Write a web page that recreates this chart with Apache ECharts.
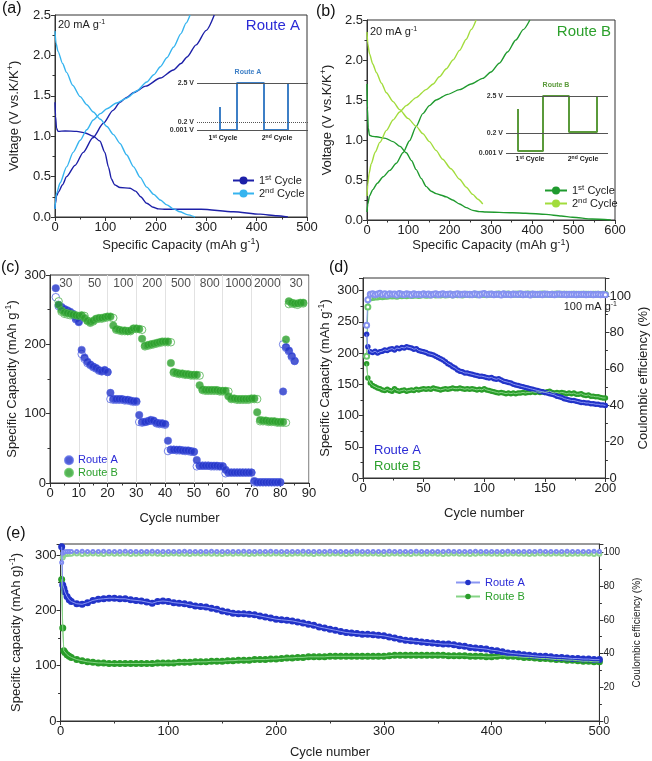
<!DOCTYPE html>
<html><head><meta charset="utf-8">
<script src="https://cdn.jsdelivr.net/npm/echarts@6/dist/echarts.min.js"></script>
<style>html,body{margin:0;padding:0;background:#fff}#c{width:652px;height:761px}</style>
</head><body><div id="c"></div>
<script>
// ---------- Panel (a): Route A voltage profiles [capacity, voltage] ----------
const aCycle1Discharge = [[0,1.42],[1,1.25],[3,1.1],[6,1.06],[20,1.065],[43,1.06],[60,1.04],[76,1.0],[89,0.94],[99,0.8],[106,0.62],[112,0.47],[118,0.4],[129,0.365],[149,0.355],[160,0.32],[170,0.25],[182,0.17],[195,0.12],[205,0.1],[220,0.095],[290,0.095],[354,0.065],[407,0.035],[440,0.015],[462,0]];
const aCycle1Charge = [[0,0.1],[1,0.17],[3,0.26],[7,0.31],[15,0.4],[23,0.5],[40,0.64],[56,0.8],[75,0.98],[96,1.16],[115,1.32],[129,1.42],[142,1.48],[156,1.54],[180,1.62],[209,1.72],[235,1.82],[250,1.9],[262,1.98],[280,2.13],[300,2.31],[316,2.5]];
const aCycle2Discharge = [[0,2.3],[2,2.15],[6,2.05],[15,1.9],[23,1.79],[35,1.63],[50,1.49],[63,1.39],[76,1.3],[90,1.21],[103,1.12],[116,1.02],[129,0.91],[142,0.77],[156,0.62],[169,0.49],[182,0.37],[196,0.28],[209,0.21],[222,0.15],[235,0.1],[248,0.065],[262,0.03],[278,0]];
const aCycle2Charge = [[0,0.1],[1,0.2],[3,0.29],[10,0.42],[23,0.62],[36,0.8],[50,0.95],[63,1.08],[76,1.2],[90,1.28],[103,1.34],[122,1.41],[142,1.47],[162,1.56],[182,1.67],[196,1.76],[209,1.86],[222,1.97],[235,2.1],[250,2.27],[260,2.4],[268,2.5]];
// ---------- Panel (b): Route B voltage profiles ----------
const bCycle1Discharge = [[0,1.7],[1,1.4],[3,1.15],[6,1.06],[14,1.045],[23,1.04],[45,1.02],[63,0.98],[80,0.92],[95,0.84],[108,0.74],[119,0.63],[131,0.52],[143,0.42],[155,0.36],[167,0.33],[180,0.31],[191,0.29],[207,0.25],[224,0.2],[240,0.155],[256,0.12],[272,0.105],[288,0.1],[352,0.09],[384,0.085],[433,0.07],[470,0.05],[497,0.035],[545,0.012],[590,0]];
const bCycle1Charge = [[0,0.1],[2,0.2],[6,0.3],[14,0.38],[25,0.46],[39,0.54],[55,0.62],[71,0.71],[87,0.84],[103,0.99],[119,1.17],[135,1.33],[151,1.43],[167,1.5],[195,1.57],[224,1.63],[252,1.7],[280,1.77],[300,1.85],[320,1.96],[340,2.1],[360,2.25],[378,2.38],[394,2.5]];
const bCycle2Discharge = [[0,2.35],[2,2.2],[6,2.08],[14,1.95],[23,1.84],[35,1.71],[47,1.59],[63,1.48],[79,1.38],[99,1.27],[119,1.17],[135,1.08],[151,0.98],[167,0.87],[183,0.76],[203,0.64],[224,0.51],[240,0.41],[256,0.32],[268,0.26],[280,0.2]];
const bCycle2Charge = [[0,0.3],[2,0.45],[5,0.58],[10,0.7],[20,0.85],[31,0.97],[47,1.12],[63,1.25],[79,1.35],[95,1.43],[119,1.53],[143,1.63],[160,1.7],[175,1.79],[192,1.89],[208,2.0],[224,2.12],[240,2.26],[252,2.38],[264,2.5]];
// ---------- Insets: schematic voltage protocol (schematic units) ----------
const insetAWave = [[23,23],[23,0],[40,0],[40,47],[67,47],[67,0],[91,0],[91,47]];
const insetALevels = [['2.5 V',47,'solid'],['0.2 V',8,'dotted'],['0.001 V',0,'solid']];
const insetBWave = [[12,44],[12,2],[37,2],[37,57],[63,57],[63,21],[91,21],[91,57]];
const insetBLevels = [['2.5 V',57,'solid'],['0.2 V',20,'solid'],['0.001 V',0,'solid']];
// ---------- Panel (c): rate capability ----------
const rateLabels = ['30','50','100','200','500','800','1000','2000','30'];
const rateAStart = 2;
const rateADischarge = [281, 257,254,251,249,247,244,237,232,
  192,181,175,171,168,166,163,161,163,160,
  130,121,121,121,121,120,120,119,118,118,
  98,88,88,89,91,90,87,86,86,85,
  61,48,48,48,48,47,47,47,46,45,
  33,25,25,25,25,25,25,25,24,24,
  19,15,15,15,15,15,15,15,15,15,
  3,1,1,1,1,1,1,1,1,1,
  132,196,191,183,176];
const rateACharge = [268, 255,252,250,248,245,242,236,234,
  186,179,173,170,167,165,162,161,162,160,
  121,120,120,120,120,119,119,118,117,117,
  88,87,88,89,90,89,86,85,85,84,
  46,48,48,47,47,47,46,46,45,45,
  24,25,25,25,25,24,24,24,24,24,
  14,15,15,15,15,15,15,15,15,15,
  1,1,1,1,1,1,1,1,1,1,
  200,195,190,182,176];
const rateBStart = 3;
const rateBDischarge = [257,249,246,245,244,243,242,241,242,
  238,234,232,234,237,238,238,239,240,240,
  227,222,221,220,220,219,220,223,223,222,
  208,198,199,200,201,202,203,204,204,204,
  173,160,159,158,158,157,157,156,156,156,
  141,135,134,134,134,134,134,133,133,133,
  125,122,122,121,121,121,121,121,122,122,
  102,91,90,90,89,89,89,88,88,88,
  207,262,260,259,259,260,260];
const rateBCharge = [262,247,244,243,242,242,241,240,241,
  241,234,231,233,236,237,237,238,239,239,
  238,221,220,219,219,219,219,222,222,222,
  221,197,198,199,200,201,202,203,203,203,
  203,159,158,157,157,156,156,155,155,155,
  155,134,133,133,133,133,133,132,132,132,
  132,121,121,120,120,120,120,120,121,121,
  121,89,89,89,88,88,88,87,87,87,
  87,258,259,258,257,259,259];
// ---------- Panel (d): cycling at 100 mA g-1 ----------
const dCycles = [3,4]; for (let c = 6; c <= 200; c += 2) dCycles.push(c);
const dCapA = [230,210,
  202,201,203,200,202,203,205,204,206,207,
  205,208,207,209,208,210,209,208,206,207,
  204,203,202,201,199,198,197,195,193,191,
  189,186,183,181,178,176,173,171,170,168,
  168,167,166,165,164,163,163,162,161,160,
  161,159,158,159,157,155,154,153,152,150,
  149,148,147,146,145,144,143,142,141,140,
  139,138,137,136,135,134,133,131,130,129,
  127,126,125,124,124,123,122,121,121,120,
  120,119,119,118,118,117,117,116];
const dCapB = [183,160,
  152,148,146,144,143,141,140,142,140,139,
  143,140,139,140,141,139,140,141,140,142,
  141,142,143,142,143,142,144,143,142,141,
  142,143,142,143,144,143,143,144,143,142,
  143,142,143,142,141,142,141,143,141,140,
  139,138,137,136,137,136,135,136,135,136,
  135,136,136,137,136,137,137,138,137,138,
  137,138,137,138,139,137,136,137,136,137,
  136,135,136,135,136,134,134,135,133,132,
  133,131,131,130,130,129,128,128];
const dCeA = [84,98,
  101.0,101.4,100.8,101.2,101.6,100.9,101.3,100.7,101.4,101.0,
  101.2,100.6,101.5,101.0,100.8,101.3,101.1,100.7,101.4,100.9,
  101.1,100.8,101.3,100.9,101.2,100.7,101.0,101.4,100.8,101.1,
  101.3,100.9,101.0,101.2,100.7,101.1,101.4,100.8,101.0,101.2,
  100.9,101.1,100.8,101.3,101.0,100.7,101.2,101.5,100.9,101.0,
  101.2,100.8,101.1,101.0,100.7,101.3,100.9,101.1,100.8,101.2,
  101.0,100.9,101.3,100.8,101.0,101.1,100.7,101.2,101.0,100.9,
  101.1,100.8,101.2,101.0,100.9,101.1,100.8,101.0,101.2,100.9,
  101.0,100.8,101.1,100.9,101.0,100.8,101.1,100.9,101.0,100.8,
  100.9,101.0,100.8,100.9,101.0,100.8,100.9,100.8];
const dCeB = [67,94,
  99.0,99.3,99.5,99.6,99.8,99.7,100.0,99.9,100.2,100.1,
  100.3,100.0,100.4,100.2,100.5,100.3,100.6,100.4,100.5,100.7,
  100.4,100.6,100.8,100.5,100.7,100.6,100.9,100.6,100.8,100.7,
  100.9,100.6,100.8,101.0,100.7,100.9,100.8,101.0,100.7,100.9,
  101.0,100.8,100.9,101.1,100.8,101.0,100.9,101.1,100.8,101.0,
  101.1,100.9,101.0,101.2,100.9,101.1,101.0,101.2,100.9,101.1,
  101.0,101.2,100.9,101.1,101.0,101.2,101.0,101.1,100.9,101.1,
  101.0,101.2,101.0,101.1,100.9,101.1,101.0,101.2,101.0,101.1,
  101.0,101.1,100.9,101.1,101.0,101.1,100.9,101.0,101.1,101.0,
  101.1,100.9,101.0,101.1,101.0,100.9,101.0,101.0];
// ---------- Panel (e): long cycling ----------
const eCycles = [1,2,3,4,6,8]; for (let c = 10; c <= 500; c += 5) eCycles.push(c);
const eCapA = [315,246,240,233,225,219,
  216,212,211,214,218,220,221,222,222,221,
  221,219,218,217,215,213,216,217,216,214,
  213,212,210,208,207,206,204,202,199,197,
  195,194,194,193,192,190,188,186,184,183,
  182,181,179,177,175,173,170,168,166,164,
  162,160,159,158,157,157,156,155,154,152,
  150,148,146,145,144,143,142,141,140,139,
  139,138,136,135,133,132,131,130,128,127,
  125,123,122,121,120,119,118,117,117,116,
  115,115,114,113,113,112,112,111,111];
const eCapB = [256,168,127,124,120,117,
  115,111,109,107,106,105,105,104,104,104,
  104,104,104,104,104,104,105,105,105,105,
  106,106,106,107,107,107,108,108,108,109,
  109,110,110,110,111,111,111,112,112,113,
  114,114,115,115,116,116,116,116,117,117,
  117,117,117,117,117,117,117,117,117,118,
  119,119,119,119,119,119,119,119,119,119,
  118,118,118,118,117,117,117,116,116,117,
  118,117,117,116,115,115,114,113,113,112,
  111,111,110,110,109,108,108,107,107];
const eCeA = [94.0,99.5,100.2,100.4,100.5,100.5,
  100.6,100.5,100.7,100.6,100.6,100.5,100.7,100.6,100.5,100.6,
  100.7,100.6,100.5,100.6,100.6,100.7,100.5,100.6,100.6,100.5,
  100.6,100.7,100.6,100.5,100.6,100.6,100.7,100.6,100.5,100.6,
  100.6,100.5,100.7,100.6,100.6,100.5,100.6,100.7,100.6,100.6,
  100.5,100.6,100.6,100.7,100.6,100.5,100.6,100.6,100.7,100.6,
  100.6,100.5,100.6,100.7,100.6,100.6,100.5,100.6,100.6,100.7,
  100.6,100.5,100.6,100.6,100.7,100.6,100.5,100.6,100.6,100.6,
  100.7,100.6,100.5,100.6,100.6,100.7,100.6,100.5,100.6,100.6,
  100.6,100.7,100.6,100.5,100.6,100.6,100.6,100.7,100.6,100.5,
  100.6,100.6,100.7,100.6,100.5,100.6,100.6,100.7,100.6];
const eCeB = [84.0,97.0,98.5,98.9,99.1,99.2,
  99.2,99.3,99.1,99.2,99.3,99.2,99.1,99.3,99.2,99.2,
  99.3,99.1,99.2,99.2,99.3,99.4,99.2,99.1,99.2,99.3,
  99.2,99.2,99.1,99.3,99.2,99.4,99.2,99.2,99.1,99.3,
  99.2,99.3,99.2,99.1,99.2,99.3,99.2,99.2,99.4,99.2,
  99.1,99.2,99.3,99.2,99.2,99.1,99.3,99.2,99.2,99.3,
  99.2,99.1,99.2,99.3,99.2,99.2,99.4,99.2,99.1,99.2,
  99.3,99.2,99.2,99.1,99.3,99.2,99.2,99.3,99.2,99.1,
  99.2,99.3,99.2,99.2,99.1,99.2,99.3,99.4,99.2,99.2,
  99.1,99.2,99.3,99.2,99.2,99.1,99.2,99.3,99.2,99.2,
  99.3,99.2,99.1,99.2,99.2,99.3,99.2,99.1,99.2];

// ---------- styling ----------
const FONT = '"Liberation Sans", Arial, Helvetica, sans-serif';
const AX = '#333';
const A1 = '#1d20a8', A2 = '#36b4ef', B1 = '#1f9a2e', B2 = '#a2dc3c';
const BLUE = '#2233c8', BLUE_L = '#8a96f2', GREEN = '#2a9d2a', GREEN_L = '#86d486';
const ROUTE_A_TXT = '#2b2bd6', ROUTE_B_TXT = '#2ca02c';
const SUP = (fs) => ({ s: { fontSize: fs, verticalAlign: 'top', fontFamily: FONT, color: '#222', lineHeight: 12 } });

function axis(o) {
  const ns = o.nameSize || 13;
  return {
    type: 'value', gridIndex: o.grid, min: o.min, max: o.max, interval: o.interval,
    position: o.position,
    name: o.name || '', nameLocation: 'middle', nameGap: o.nameGap || 20,
    nameTextStyle: { fontSize: ns, color: '#222', fontFamily: FONT, lineHeight: ns + 3, rich: { s: { fontSize: Math.round(ns * 0.68), verticalAlign: 'top', fontFamily: FONT, color: '#222' } } },
    axisLine: { show: true, onZero: false, lineStyle: { color: AX, width: 1 } },
    axisTick: { show: true, length: 4, lineStyle: { color: AX } },
    minorTick: { show: true, splitNumber: o.minorSplit || 2, length: 2.5, lineStyle: { color: AX } },
    splitLine: o.split || { show: false },
    axisLabel: { fontSize: o.labelSize || 13, color: '#222', margin: o.margin || 4, fontFamily: FONT, formatter: o.fmt, showMaxLabel: o.showMax },
  };
}
const hidden = (g, max) => ({ type: 'value', gridIndex: g, min: 0, max: max, show: false });
const gridBox = (l, t, w, h) => ({ left: l, top: t, width: w, height: h, show: true, borderColor: AX, borderWidth: 1, backgroundColor: 'transparent' });
const pairs = (xs, ys) => ys.map((v, i) => [xs[i], v]);
const fromStart = (start, ys) => ys.map((v, i) => [start + i, v]);

function curve(name, xi, data, color) {
  return { type: 'line', name, xAxisIndex: xi, yAxisIndex: xi, data, smooth: 0.25, smoothMonotone: 'x', symbol: 'none',
    lineStyle: { color, width: 1.4 }, itemStyle: { color }, z: 3 };
}
function inset(xi, wave, levels, color) {
  return { type: 'line', xAxisIndex: xi, yAxisIndex: xi, data: wave, symbol: 'none', silent: true,
    lineStyle: { color, width: 2 }, z: 4,
    markLine: { symbol: ['none', 'none'], silent: true, animation: false,
      label: { show: true, position: 'start', distance: 3, fontSize: 7, fontWeight: 'bold', color: '#333', fontFamily: FONT },
      data: levels.map(l => ({ yAxis: l[1], label: { formatter: l[0] }, lineStyle: { type: l[2], color: '#555', width: 1 } })) } };
}

const grids = [
  gridBox(55, 15, 252, 202),
  { left: 197, top: 83, width: 111, height: 47 },
  gridBox(367, 20, 248, 200),
  { left: 506, top: 96, width: 102, height: 57 },
  gridBox(50, 275, 259, 208),
  gridBox(363, 278, 255, 200),
  gridBox(58, 544, 562, 178),
];
const xAxes = [
  axis({ grid: 0, min: 0, max: 500, interval: 100, name: 'Specific Capacity (mAh g{s|-1})', nameGap: 20 }),
  hidden(1, 111),
  axis({ grid: 2, min: 0, max: 600, interval: 100, name: 'Specific Capacity (mAh g{s|-1})', nameGap: 17 }),
  hidden(3, 102),
  axis({ grid: 4, min: 0, max: 90, interval: 10, name: 'Cycle number', nameGap: 27, split: { show: true, lineStyle: { color: '#e2e2e2', width: 1 } } }),
  axis({ grid: 5, min: 0, max: 200, interval: 50, name: 'Cycle number', nameGap: 27 }),
  axis({ grid: 6, min: 0, max: 500, interval: 100, name: 'Cycle number', nameGap: 23 }),
];
const yAxes = [
  axis({ grid: 0, min: 0, max: 2.5, interval: 0.5, name: 'Voltage (V vs.K/K{s|+})', nameGap: 33, fmt: v => v.toFixed(1) }),
  hidden(1, 47),
  axis({ grid: 2, min: 0, max: 2.5, interval: 0.5, name: 'Voltage (V vs.K/K{s|+})', nameGap: 32, fmt: v => v.toFixed(1) }),
  hidden(3, 57),
  axis({ grid: 4, min: 0, max: 300, interval: 100, name: 'Specific Capacity (mAh g{s|-1})', nameGap: 30 }),
  axis({ grid: 5, min: 0, max: 320, interval: 50, name: 'Specific Capacity (mAh g{s|-1})', nameGap: 30, showMax: false }),
  axis({ grid: 5, min: 0, max: 110, interval: 20, position: 'right', name: 'Coulombic efficiency (%)', nameGap: 21, showMax: false }),
  axis({ grid: 6, min: 0, max: 320, interval: 100, name: 'Specific capacity (mAh g){s|-1})', nameGap: 32, showMax: false }),
  axis({ grid: 6, min: 0, max: 105, interval: 20, position: 'right', name: 'Coulombic efficiency (%)', nameGap: 19, nameSize: 10, labelSize: 10, showMax: false }),
];

const series = [
  curve('A 1st', 0, aCycle1Discharge, A1), curve('A 1st', 0, aCycle1Charge, A1),
  curve('A 2nd', 0, aCycle2Discharge, A2), curve('A 2nd', 0, aCycle2Charge, A2),
  inset(1, insetAWave, insetALevels, '#3d7fc6'),
  curve('B 1st', 2, bCycle1Discharge, B1), curve('B 1st', 2, bCycle1Charge, B1),
  curve('B 2nd', 2, bCycle2Discharge, B2), curve('B 2nd', 2, bCycle2Charge, B2),
  inset(3, insetBWave, insetBLevels, '#5a9a3a'),
  // (c)
  { type: 'scatter', name: 'cA charge', xAxisIndex: 4, yAxisIndex: 4, data: fromStart(rateAStart, rateACharge), symbolSize: 7.5,
    itemStyle: { color: '#fff', borderColor: '#5566e0', borderWidth: 1 }, z: 2 },
  { type: 'scatter', name: 'cB charge', xAxisIndex: 4, yAxisIndex: 4, data: fromStart(rateBStart, rateBCharge), symbolSize: 7.5,
    itemStyle: { color: '#fff', borderColor: '#4fb24f', borderWidth: 1 }, z: 2 },
  { type: 'scatter', name: 'cA', xAxisIndex: 4, yAxisIndex: 4, data: fromStart(rateAStart, rateADischarge), symbolSize: 7.5,
    itemStyle: { color: BLUE, borderColor: '#5a6ae6', borderWidth: 0.6 }, z: 3 },
  { type: 'scatter', name: 'cB', xAxisIndex: 4, yAxisIndex: 4, data: fromStart(rateBStart, rateBDischarge), symbolSize: 7.5,
    itemStyle: { color: GREEN, borderColor: '#5cc25c', borderWidth: 0.6 }, z: 3 },
  { type: 'scatter', xAxisIndex: 4, yAxisIndex: 4, silent: true, symbolSize: 0,
    data: rateLabels.map((t, i) => ({ value: [5.5 + 10 * i, 288], label: { formatter: t } })),
    label: { show: true, position: 'inside', fontSize: 12, color: '#222', fontFamily: FONT }, z: 5 },
  // (d)
  { type: 'line', name: 'dCeB', xAxisIndex: 5, yAxisIndex: 6, data: pairs(dCycles, dCeB), symbol: 'emptyCircle', symbolSize: 5,
    itemStyle: { color: '#6cc86c', borderWidth: 1 }, lineStyle: { color: '#6cc86c', width: 1 }, z: 2 },
  { type: 'line', name: 'dCeA', xAxisIndex: 5, yAxisIndex: 6, data: pairs(dCycles, dCeA), symbol: 'emptyCircle', symbolSize: 5,
    itemStyle: { color: '#8592f0', borderWidth: 1 }, lineStyle: { color: '#8592f0', width: 1 }, z: 2 },
  { type: 'line', name: 'dCapB', xAxisIndex: 5, yAxisIndex: 5, data: pairs(dCycles, dCapB), symbol: 'circle', symbolSize: 5.5,
    itemStyle: { color: GREEN }, lineStyle: { color: GREEN_L, width: 1 }, z: 3 },
  { type: 'line', xAxisIndex: 5, yAxisIndex: 5, data: pairs(dCycles, dCapB), symbol: 'none', silent: true,
    lineStyle: { color: GREEN_L, width: 1 }, z: 4 },
  { type: 'line', name: 'dCapA', xAxisIndex: 5, yAxisIndex: 5, data: pairs(dCycles, dCapA), symbol: 'circle', symbolSize: 5.5,
    itemStyle: { color: BLUE }, lineStyle: { color: BLUE_L, width: 1 }, z: 3 },
  { type: 'line', xAxisIndex: 5, yAxisIndex: 5, data: pairs(dCycles, dCapA), symbol: 'none', silent: true,
    lineStyle: { color: BLUE_L, width: 1 }, z: 4 },
  // (e)
  { type: 'line', name: 'eCeB', xAxisIndex: 6, yAxisIndex: 8, data: pairs(eCycles, eCeB), symbol: 'emptyCircle', symbolSize: 4,
    itemStyle: { color: '#8fd48f', borderWidth: 0.8 }, lineStyle: { color: '#8fd48f', width: 1 }, z: 2 },
  { type: 'line', name: 'eCeA', xAxisIndex: 6, yAxisIndex: 8, data: pairs(eCycles, eCeA), symbol: 'emptyCircle', symbolSize: 3,
    itemStyle: { color: '#7d8af0', borderWidth: 0.8 }, lineStyle: { color: '#7d8af0', width: 1 }, z: 2 },
  { type: 'line', name: 'eB', xAxisIndex: 6, yAxisIndex: 7, data: pairs(eCycles, eCapB), symbol: 'circle', symbolSize: 7,
    itemStyle: { color: GREEN }, lineStyle: { color: GREEN_L, width: 1 }, z: 3 },
  { type: 'line', xAxisIndex: 6, yAxisIndex: 7, data: pairs(eCycles, eCapB), symbol: 'none', silent: true,
    lineStyle: { color: GREEN_L, width: 1 }, z: 4 },
  { type: 'line', name: 'eA', xAxisIndex: 6, yAxisIndex: 7, data: pairs(eCycles, eCapA), symbol: 'circle', symbolSize: 7,
    itemStyle: { color: BLUE }, lineStyle: { color: BLUE_L, width: 1 }, z: 3 },
  { type: 'line', xAxisIndex: 6, yAxisIndex: 7, data: pairs(eCycles, eCapA), symbol: 'none', silent: true,
    lineStyle: { color: BLUE_L, width: 1 }, z: 4 },
];

const legendNames = { 'A 1st': '1{s|st} Cycle', 'A 2nd': '2{s|nd} Cycle', 'B 1st': '1{s|st} Cycle', 'B 2nd': '2{s|nd} Cycle', 'cA': 'Route A', 'cB': 'Route B', 'eA': 'Route A', 'eB': 'Route B' };
const lg = (data, left, top, extra) => Object.assign({
  data, left, top, orient: 'vertical', padding: 0, itemGap: 0, selectedMode: false,
  formatter: n => legendNames[n],
  textStyle: { fontSize: 11, color: '#222', fontFamily: FONT, lineHeight: 13, rich: SUP(8) },
}, extra);
const legends = [
  lg(['A 1st', 'A 2nd'], 232, 174, { itemWidth: 21, itemHeight: 10 }),
  lg(['B 1st', 'B 2nd'], 544, 184, { itemWidth: 22, itemHeight: 10 }),
  lg([{ name: 'cA', textStyle: { color: ROUTE_A_TXT } }, { name: 'cB', textStyle: { color: ROUTE_B_TXT } }], 64, 454,
    { itemWidth: 8, itemHeight: 8, icon: 'circle', itemGap: 0, textStyle: { fontSize: 11, fontFamily: FONT, lineHeight: 12.5 } }),
  lg([{ name: 'eA', textStyle: { color: ROUTE_A_TXT } }, { name: 'eB', textStyle: { color: ROUTE_B_TXT } }], 455, 576,
    { itemWidth: 24, itemHeight: 7, itemGap: 1, textStyle: { fontSize: 11, fontFamily: FONT, lineHeight: 13 } }),
];

const txt = (text, x, y, o) => ({ type: 'text', x, y, silent: true, z: 10,
  style: Object.assign({ text, fontSize: 12, fill: '#222', fontFamily: FONT, align: 'left', verticalAlign: 'middle' }, o) });
const graphics = [
  txt('(a)', 2, 9, { fontSize: 16, fill: '#111' }),
  txt('(b)', 316, 12, { fontSize: 16, fill: '#111' }),
  txt('(c)', 1, 268, { fontSize: 16, fill: '#111' }),
  txt('(d)', 329, 268, { fontSize: 16, fill: '#111' }),
  txt('(e)', 6, 534, { fontSize: 16, fill: '#111' }),
  txt('20 mA g{s|-1}', 58, 25, { fontSize: 11, rich: SUP(7) }),
  txt('20 mA g{s|-1}', 370, 32, { fontSize: 11, rich: SUP(7) }),
  txt('Route A', 300, 26, { fontSize: 15, fill: ROUTE_A_TXT, align: 'right' }),
  txt('Route B', 611, 32, { fontSize: 15, fill: ROUTE_B_TXT, align: 'right' }),
  txt('Route A', 248, 72, { fontSize: 7, fontWeight: 'bold', fill: '#3d7fc6', align: 'center' }),
  txt('Route B', 556, 85, { fontSize: 7, fontWeight: 'bold', fill: '#5a9a3a', align: 'center' }),
  txt('1{s|st} Cycle', 223, 138, { fontSize: 7, fontWeight: 'bold', align: 'center', rich: { s: { fontSize: 5, verticalAlign: 'top', fontWeight: 'bold' } } }),
  txt('2{s|nd} Cycle', 277, 138, { fontSize: 7, fontWeight: 'bold', align: 'center', rich: { s: { fontSize: 5, verticalAlign: 'top', fontWeight: 'bold' } } }),
  txt('1{s|st} Cycle', 530, 159, { fontSize: 7, fontWeight: 'bold', align: 'center', rich: { s: { fontSize: 5, verticalAlign: 'top', fontWeight: 'bold' } } }),
  txt('2{s|nd} Cycle', 583, 159, { fontSize: 7, fontWeight: 'bold', align: 'center', rich: { s: { fontSize: 5, verticalAlign: 'top', fontWeight: 'bold' } } }),
  txt('100 mA g{s|-1}', 617, 307, { fontSize: 11, align: 'right', rich: SUP(7) }),
  txt('Route A', 374, 450, { fontSize: 13, fill: ROUTE_A_TXT }),
  txt('Route B', 374, 466, { fontSize: 13, fill: ROUTE_B_TXT }),
];

const chart = echarts.init(document.getElementById('c'), null, { renderer: 'canvas' });
chart.setOption({
  animation: false,
  textStyle: { fontFamily: FONT },
  grid: grids, xAxis: xAxes, yAxis: yAxes, series, legend: legends, graphic: graphics,
});
</script></body></html>
